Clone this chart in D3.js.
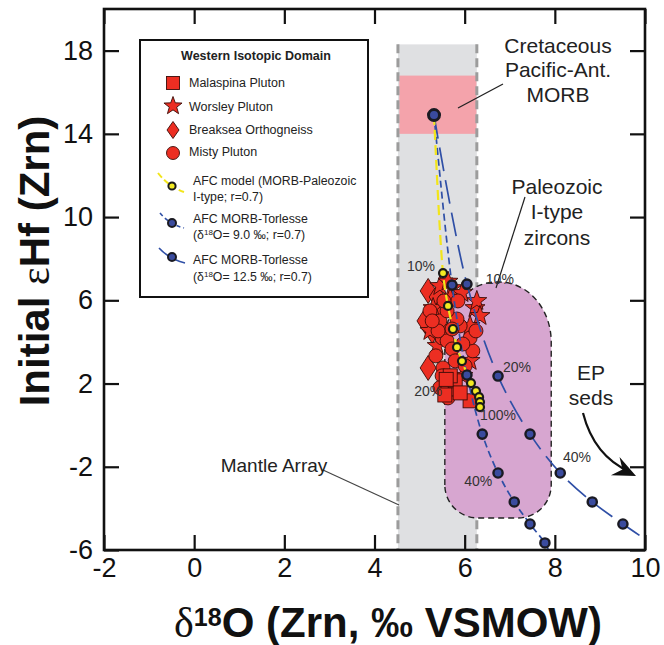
<!DOCTYPE html>
<html><head><meta charset="utf-8">
<script src="https://cdn.jsdelivr.net/npm/d3@7"></script>
<style>body{margin:0;background:#fff}svg{display:block}text{font-family:"Liberation Sans",Arial,sans-serif}</style>
</head><body>
<script>
// ---------------- DATA ----------------
const xTicks = [-2, 0, 2, 4, 6, 8, 10];
const yTicks = [-6, -2, 2, 6, 10, 14, 18];

const malaspina = [[5.63,1.74],[5.79,2.13],[5.56,1.45],[6.12,1.17],[5.68,2.37],[5.90,1.55],[5.59,2.20]];
const worsley = [[5.30,5.63],[5.23,4.53],[5.52,4.67],[6.23,5.63],[6.27,5.97],[5.72,6.59],[5.68,6.11],[6.12,3.09],[5.45,6.69],[5.94,6.35],[6.34,5.25],[5.39,3.81],[6.12,4.77],[5.96,2.37],[5.63,6.90]];
const breaksea = [[5.19,6.45],[5.39,6.16],[5.19,2.75],[5.28,4.53],[5.45,5.49],[5.12,5.01]];
const misty = [[5.50,4.19],[5.61,4.05],[5.72,3.66],[5.52,2.75],[5.68,1.55],[6.18,3.57],[6.12,4.19],[5.90,4.77],[5.83,5.10],[5.45,5.01],[5.61,5.49],[5.96,3.90],[5.79,3.09],[5.63,1.31],[5.36,3.33],[5.41,4.53],[5.72,4.62],[6.01,2.85],[5.50,2.37],[5.85,5.97],[5.54,5.97],[5.23,5.49],[5.28,5.01],[6.25,4.53],[5.45,1.80]];

const morbStart = [5.32, 14.90];
const afcYellow = [[5.52,7.31],[5.63,5.73],[5.74,4.62],[5.83,3.75],[5.94,3.08],[6.14,2.02],[6.25,1.64],[6.32,1.35],[6.34,1.11],[6.34,0.87]];
const afcBlue9 = [[5.72,6.73],[6.05,2.41],[6.39,-0.43],[6.74,-2.30],[7.10,-3.69],[7.45,-4.75],[7.78,-5.66]];
const afcBlue9End = [7.86, -6.0];
const afcBlue125 = [[6.05,6.78],[6.74,2.36],[7.45,-0.43],[8.12,-2.30],[8.83,-3.69],[9.51,-4.75]];
const afcBlue125End = [10.05, -5.55];

const pctLabels = [
  {t:"10%", x:5.03, y:7.65}, {t:"10%", x:6.78, y:7.02},
  {t:"20%", x:5.19, y:1.64}, {t:"20%", x:7.16, y:2.79},
  {t:"100%", x:6.74, y:0.49}, {t:"40%", x:6.30, y:-2.68}, {t:"40%", x:8.49, y:-1.53}
];

const mantleBand = {x0:4.52, x1:6.27, top:18.3};
const morbBox = {x0:4.55, x1:6.26, y0:14.0, y1:16.8};
const paleoZone = {x0:5.56, x1:7.92, y0:-4.46, y1:6.88};

// ---------------- SETUP ----------------
const W = 664, H = 645;
const svg = d3.select("body").append("svg").attr("width", W).attr("height", H);
const x = d3.scaleLinear().domain([-2, 10]).range([104, 645]);
const y = d3.scaleLinear().domain([-6, 20]).range([550, 9]);

svg.append("clipPath").attr("id","clip").append("rect")
  .attr("x",104).attr("y",9).attr("width",541).attr("height",541);
const plot = svg.append("g").attr("clip-path","url(#clip)");

// Mantle array band
plot.append("rect").attr("x",x(mantleBand.x0)).attr("y",y(mantleBand.top))
  .attr("width",x(mantleBand.x1)-x(mantleBand.x0)).attr("height",y(-6)-y(mantleBand.top))
  .attr("fill","#dfe0e2");
// MORB box
plot.append("rect").attr("x",x(morbBox.x0)).attr("y",y(morbBox.y1))
  .attr("width",x(morbBox.x1)-x(morbBox.x0)).attr("height",y(morbBox.y0)-y(morbBox.y1))
  .attr("fill","#f4a3ab");
// band dashed borders
[mantleBand.x0, mantleBand.x1].forEach(v => {
  plot.append("line").attr("x1",x(v)).attr("x2",x(v)).attr("y1",y(mantleBand.top)).attr("y2",y(-6))
    .attr("stroke","#9c9c9c").attr("stroke-width",3).attr("stroke-dasharray","9,5");
});

// Paleozoic zone
{
  const L=x(paleoZone.x0), R=x(paleoZone.x1), T=y(paleoZone.y1), B=y(paleoZone.y0);
  const rx=52, ry=60, rb=33;
  const p = `M${L},${B-rb} L${L},${T+ry} A${rx},${ry} 0 0 1 ${L+rx},${T} L${R-rx},${T} A${rx},${ry} 0 0 1 ${R},${T+ry} L${R},${B-rb} A${rb},${rb} 0 0 1 ${R-rb},${B} L${L+rb},${B} A${rb},${rb} 0 0 1 ${L},${B-rb} Z`;
  plot.append("path").attr("d",p).attr("fill","#d7a6d0").attr("stroke","#222")
    .attr("stroke-width",1.4).attr("stroke-dasharray","6,4");
}

// leader lines
const lead = svg.append("g").attr("stroke","#222").attr("stroke-width",1.2);
lead.append("line").attr("x1",458).attr("y1",108).attr("x2",503).attr("y2",84);
lead.append("line").attr("x1",525).attr("y1",197).attr("x2",496).attr("y2",288);
lead.append("line").attr("x1",323).attr("y1",470).attr("x2",399).attr("y2",505).attr("stroke","#444");

// ---------------- SYMBOLS ----------------
const RED = "#ec2e22", EDGE = "#3a0c08";
function starPath(cx, cy, ro, ri) {
  let s = "";
  for (let i = 0; i < 10; i++) {
    const a = -Math.PI/2 + i*Math.PI/5, r = i%2 ? ri : ro;
    s += (i ? "L" : "M") + (cx + r*Math.cos(a)) + "," + (cy + r*Math.sin(a));
  }
  return s + "Z";
}
function diamondPath(cx, cy, w, h) {
  return `M${cx},${cy-h/2} L${cx+w/2},${cy} L${cx},${cy+h/2} L${cx-w/2},${cy} Z`;
}
const pts = plot.append("g").attr("fill",RED).attr("stroke",EDGE).attr("stroke-width",0.9);
breaksea.forEach(d => pts.append("path").attr("d", diamondPath(x(d[0]), y(d[1]), 16, 25)));
worsley.forEach(d => pts.append("path").attr("d", starPath(x(d[0]), y(d[1]), 10.5, 4.3)));
misty.forEach(d => pts.append("circle").attr("cx",x(d[0])).attr("cy",y(d[1])).attr("r",7));
malaspina.forEach(d => pts.append("rect").attr("x",x(d[0])-7).attr("y",y(d[1])-7).attr("width",14).attr("height",14));

// ---------------- AFC CURVES ----------------
const line = d3.line().x(d => x(d[0])).y(d => y(d[1])).curve(d3.curveCatmullRom.alpha(0.5));
const BLUE = "#2f4fa6";
plot.append("path").attr("d", line([morbStart, ...afcBlue125, afcBlue125End])).attr("fill","none")
  .attr("stroke",BLUE).attr("stroke-width",1.7).attr("stroke-dasharray","24,9");
plot.append("path").attr("d", line([morbStart, ...afcBlue9, afcBlue9End])).attr("fill","none")
  .attr("stroke",BLUE).attr("stroke-width",1.7).attr("stroke-dasharray","7,4");
plot.append("path").attr("d", line([morbStart, ...afcYellow])).attr("fill","none")
  .attr("stroke","#f2e51a").attr("stroke-width",2.2).attr("stroke-dasharray","10,5");

const dots = plot.append("g");
[...afcBlue9, ...afcBlue125].forEach(d => dots.append("circle").attr("cx",x(d[0])).attr("cy",y(d[1])).attr("r",4.6)
  .attr("fill","#3a4b9e").attr("stroke","#1a1a22").attr("stroke-width",2.4));
afcYellow.forEach(d => dots.append("circle").attr("cx",x(d[0])).attr("cy",y(d[1])).attr("r",4)
  .attr("fill","#f3ea22").attr("stroke","#1a1a1a").attr("stroke-width",2.2));
dots.append("circle").attr("cx",x(morbStart[0])).attr("cy",y(morbStart[1])).attr("r",5.5)
  .attr("fill","#3a4b9e").attr("stroke","#1a1a22").attr("stroke-width",3);

// percent labels
pctLabels.forEach(d => svg.append("text").attr("x",x(d.x)).attr("y",y(d.y)).attr("text-anchor","middle")
  .attr("dominant-baseline","central").attr("font-size",14).attr("fill","#333").text(d.t));

// ---------------- ANNOTATIONS ----------------
function multi(lines, cx, cy0, dy, fs) {
  lines.forEach((t,i) => svg.append("text").attr("x",cx).attr("y",cy0+i*dy).attr("text-anchor","middle")
    .attr("dominant-baseline","central").attr("font-size",fs).attr("fill","#222").text(t));
}
multi(["Cretaceous","Pacific-Ant.","MORB"], 558, 45, 24.5, 21);
multi(["Paleozoic","I-type","zircons"], 557, 186, 25.5, 21);
multi(["EP","seds"], 591, 372, 25, 21);
multi(["Mantle Array"], 274, 465, 0, 19);

// curved arrow
{
  const p0=[583,413], c=[594,456], p1=[630,472];
  svg.append("path").attr("d",`M${p0} Q${c} ${p1}`).attr("fill","none").attr("stroke","#111").attr("stroke-width",2.2);
  const tip=[636,476];
  let dx=tip[0]-c[0], dy=tip[1]-c[1]; const n=Math.hypot(dx,dy); dx/=n; dy/=n;
  const px=-dy, py=dx, L=23, Wd=10, notch=15;
  const b=[tip[0]-L*dx, tip[1]-L*dy], m=[tip[0]-notch*dx, tip[1]-notch*dy];
  svg.append("path").attr("d",`M${tip} L${b[0]+Wd*px},${b[1]+Wd*py} L${m} L${b[0]-Wd*px},${b[1]-Wd*py} Z`).attr("fill","#111");
}

// ---------------- LEGEND ----------------
const lg = svg.append("g");
lg.append("rect").attr("x",140).attr("y",40).attr("width",228).attr("height",257)
  .attr("fill","#fff").attr("stroke","#111").attr("stroke-width",2);
lg.append("text").attr("x",256).attr("y",56).attr("text-anchor","middle").attr("dominant-baseline","central")
  .attr("font-size",12.5).attr("font-weight","bold").attr("fill","#222").text("Western Isotopic Domain");
const lsym = lg.append("g").attr("fill",RED).attr("stroke",EDGE).attr("stroke-width",0.9);
lsym.append("rect").attr("x",173-6.5).attr("y",83-6.5).attr("width",13).attr("height",13);
lsym.append("path").attr("d",starPath(173,106,9.5,3.9));
lsym.append("path").attr("d",diamondPath(173,130,12,17));
lsym.append("circle").attr("cx",173).attr("cy",153).attr("r",6.5);
const legNames = ["Malaspina Pluton","Worsley Pluton","Breaksea Orthogneiss","Misty Pluton"];
[83,107,130,152].forEach((yy,i) => lg.append("text").attr("x",189).attr("y",yy).attr("dominant-baseline","central")
  .attr("font-size",12.5).attr("fill","#222").text(legNames[i]));
// AFC legend entries
lg.append("path").attr("d","M158,173 Q168,186 184,192").attr("fill","none").attr("stroke","#f2e51a").attr("stroke-width",2).attr("stroke-dasharray","6,3");
lg.append("circle").attr("cx",172).attr("cy",186).attr("r",3.6).attr("fill","#f3ea22").attr("stroke","#1a1a1a").attr("stroke-width",2);
lg.append("path").attr("d","M160,213 Q169,224 184,228").attr("fill","none").attr("stroke",BLUE).attr("stroke-width",1.6).attr("stroke-dasharray","4,3");
lg.append("circle").attr("cx",172).attr("cy",223).attr("r",4).attr("fill","#3a4b9e").attr("stroke","#1a1a22").attr("stroke-width",2);
lg.append("path").attr("d","M159,248 Q169,259 185,263").attr("fill","none").attr("stroke",BLUE).attr("stroke-width",1.6);
lg.append("circle").attr("cx",172).attr("cy",257).attr("r",4).attr("fill","#3a4b9e").attr("stroke","#1a1a22").attr("stroke-width",2);
function legText(yy, parts) {
  const t = lg.append("text").attr("x",193).attr("y",yy).attr("dominant-baseline","central").attr("font-size",12.3).attr("fill","#222");
  parts.forEach(p => { const s = t.append("tspan").text(p[0]); if (p[1]) s.attr("font-size",8).attr("baseline-shift","35%"); });
}
legText(181, [["AFC model (MORB-Paleozoic"]]);
legText(197, [["I-type; r=0.7)"]]);
legText(219, [["AFC MORB-Torlesse"]]);
legText(235, [["(δ"],["18",1],["O= 9.0 ‰; r=0.7)"]]);
legText(260, [["AFC MORB-Torlesse"]]);
legText(277, [["(δ"],["18",1],["O= 12.5 ‰; r=0.7)"]]);

// ---------------- AXES ----------------
const fmt = d => String(d);
const ax = svg.append("g");
ax.append("g").attr("transform",`translate(0,${y(-6)})`)
  .call(d3.axisBottom(x).tickValues(xTicks).tickSize(-15).tickPadding(8).tickFormat(fmt));
ax.append("g").attr("transform",`translate(0,${y(20)})`)
  .call(d3.axisTop(x).tickValues(xTicks).tickSize(-15).tickFormat(""));
ax.append("g").attr("transform",`translate(${x(-2)},0)`)
  .call(d3.axisLeft(y).tickValues(yTicks).tickSize(-15).tickPadding(11).tickFormat(fmt));
ax.append("g").attr("transform",`translate(${x(10)},0)`)
  .call(d3.axisRight(y).tickValues(yTicks).tickSize(-15).tickFormat(""));
ax.selectAll(".domain").remove();
ax.selectAll(".tick line").attr("stroke","#111").attr("stroke-width",2.2);
ax.selectAll(".tick text").attr("font-size",27).attr("fill","#111").attr("font-family","'Liberation Sans',Arial,sans-serif");

svg.append("rect").attr("x",104).attr("y",9).attr("width",541).attr("height",541)
  .attr("fill","none").attr("stroke","#111").attr("stroke-width",2.6);

// axis titles
const xl = svg.append("text").attr("x",388).attr("y",637).attr("text-anchor","middle")
  .attr("font-size",42).attr("font-weight","bold").attr("fill","#111");
xl.append("tspan").attr("font-family","'Liberation Serif',serif").attr("font-weight","normal").text("δ");
xl.append("tspan").attr("font-size",25).attr("baseline-shift","45%").text("18");
xl.append("tspan").text("O (Zrn, ‰ VSMOW)");

const ylab = svg.append("text").attr("transform","translate(49,261) rotate(-90)").attr("text-anchor","middle")
  .attr("font-size",42).attr("font-weight","bold").attr("fill","#111");
ylab.append("tspan").text("Initial ");
ylab.append("tspan").attr("font-family","'Liberation Serif',serif").attr("font-weight","normal").text("ε");
ylab.append("tspan").text("Hf (Zrn)");
</script>
</body></html>
